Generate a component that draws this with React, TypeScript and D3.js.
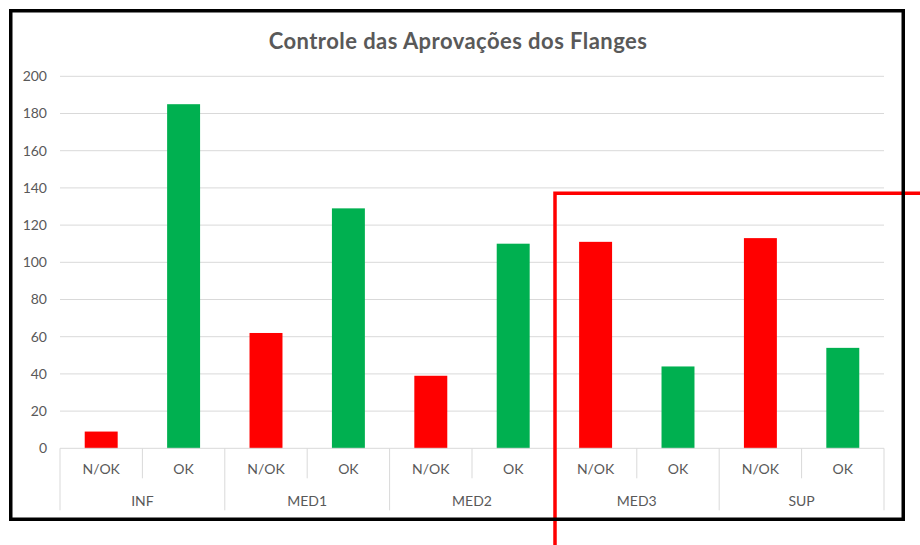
import React from 'react';
import * as d3 from 'd3';

// chart values
const groups = ['INF', 'MED1', 'MED2', 'MED3', 'SUP'];
const statuses = ['N/OK', 'OK'];
const nokValues = [9, 62, 39, 111, 113];
const okValues = [185, 129, 110, 44, 54];
const yTickValues = [0, 20, 40, 60, 80, 100, 120, 140, 160, 180, 200];
const title = 'Controle das Aprovações dos Flanges';

const W = 920;
const H = 545;
const FONT = 'Lato, "Open Sans", sans-serif';
const TEXT = '#595959';
const GRID = '#D9D9D9';
const COLORS: Record<string, string> = { 'N/OK': '#FF0000', OK: '#00B050' };

export default function App() {
  const margin = { left: 60, right: 36, top: 76.3, bottom: 96.7 };
  const x0 = d3.scaleBand().domain(groups).range([margin.left, W - margin.right]).padding(0);
  const x1 = d3.scaleBand().domain(statuses).range([0, x0.bandwidth()]).padding(0);
  const y = d3.scaleLinear().domain([0, 200]).range([H - margin.bottom, margin.top]);

  const barW = x1.bandwidth() / 2.5; // gap width 150%
  const bars = groups.flatMap((g, i) => [
    { g, s: 'N/OK', v: nokValues[i] },
    { g, s: 'OK', v: okValues[i] },
  ]);
  const base = y(0);
  const x0Start = x0.range()[0];
  const x0End = x0.range()[1];

  return (
    <svg
      width={W}
      height={H}
      style={{ position: 'absolute', left: 0, top: 0, background: '#fff' }}
      fontFamily={FONT}
    >
      <rect x={0} y={0} width={W} height={H} fill="#fff" />

      <text
        x={458}
        y={49}
        textAnchor="middle"
        fontSize={22}
        fontWeight={700}
        letterSpacing={0.45}
        fill={TEXT}
      >
        {title}
      </text>

      {/* gridlines + y labels */}
      {yTickValues.map(t => (
        <g key={t}>
          {t > 0 && (
            <line x1={x0Start} x2={x0End} y1={y(t)} y2={y(t)} stroke={GRID} strokeWidth={1} />
          )}
          <text x={47} y={y(t)} dy="0.35em" textAnchor="end" fontSize={14} fill={TEXT}>
            {t}
          </text>
        </g>
      ))}

      {/* bars */}
      {bars.map(b => {
        const cx = (x0(b.g) || 0) + (x1(b.s) || 0) + x1.bandwidth() / 2;
        return (
          <rect
            key={b.g + b.s}
            x={cx - barW / 2}
            y={y(b.v)}
            width={barW}
            height={base - y(b.v)}
            fill={COLORS[b.s]}
          />
        );
      })}

      {/* category axis */}
      <line x1={x0Start} x2={x0End} y1={base} y2={base} stroke={GRID} strokeWidth={1} />
      {groups.map(g => (
        <g key={g}>
          <line x1={x0(g)} x2={x0(g)} y1={base} y2={base + 62} stroke={GRID} strokeWidth={1} />
          <line
            x1={(x0(g) || 0) + x1.bandwidth()}
            x2={(x0(g) || 0) + x1.bandwidth()}
            y1={base}
            y2={base + 30}
            stroke={GRID}
            strokeWidth={1}
          />
          {statuses.map(s => (
            <text
              key={s}
              x={(x0(g) || 0) + (x1(s) || 0) + x1.bandwidth() / 2}
              y={base + 21}
              dy="0.35em"
              textAnchor="middle"
              fontSize={14}
              fill={TEXT}
            >
              {s}
            </text>
          ))}
          <text
            x={(x0(g) || 0) + x0.bandwidth() / 2}
            y={base + 52.5}
            dy="0.35em"
            textAnchor="middle"
            fontSize={14}
            fill={TEXT}
          >
            {g}
          </text>
        </g>
      ))}
      <line x1={x0End} x2={x0End} y1={base} y2={base + 62} stroke={GRID} strokeWidth={1} />

      {/* red highlight frame */}
      <path d={`M555,${H} V193.3 H${W}`} fill="none" stroke="#FF0000" strokeWidth={3.5} />

      {/* black border */}
      <rect x={10.75} y={10.75} width={892.5} height={508.5} fill="none" stroke="#000" strokeWidth={3.5} />
    </svg>
  );
}
